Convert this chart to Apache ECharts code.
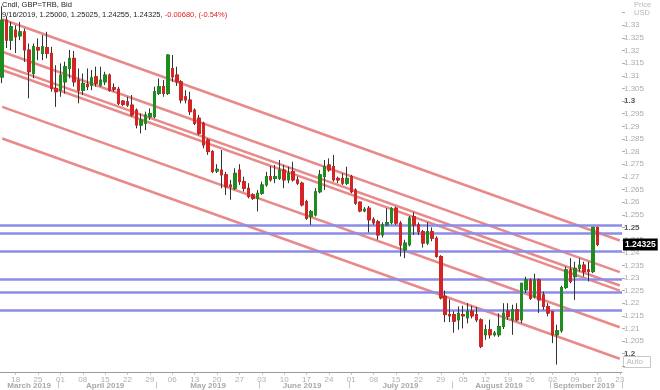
<!DOCTYPE html>
<html><head><meta charset="utf-8">
<script src="https://cdn.jsdelivr.net/npm/echarts@6/dist/echarts.min.js"></script>
<style>html,body{margin:0;padding:0;background:#fff}#c{width:660px;height:390px}</style>
</head><body><div id="c"></div>
<script>
const dates = [
'2019-03-13','2019-03-14','2019-03-15','2019-03-18','2019-03-19','2019-03-20','2019-03-21','2019-03-22','2019-03-25','2019-03-26','2019-03-27','2019-03-28','2019-03-29',
'2019-04-01','2019-04-02','2019-04-03','2019-04-04','2019-04-05','2019-04-08','2019-04-09','2019-04-10','2019-04-11','2019-04-12','2019-04-15','2019-04-16','2019-04-17','2019-04-18','2019-04-19','2019-04-22','2019-04-23','2019-04-24','2019-04-25','2019-04-26','2019-04-29','2019-04-30',
'2019-05-01','2019-05-02','2019-05-03','2019-05-06','2019-05-07','2019-05-08','2019-05-09','2019-05-10','2019-05-13','2019-05-14','2019-05-15','2019-05-16','2019-05-17','2019-05-20','2019-05-21','2019-05-22','2019-05-23','2019-05-24','2019-05-27','2019-05-28','2019-05-29','2019-05-30','2019-05-31',
'2019-06-03','2019-06-04','2019-06-05','2019-06-06','2019-06-07','2019-06-10','2019-06-11','2019-06-12','2019-06-13','2019-06-14','2019-06-17','2019-06-18','2019-06-19','2019-06-20','2019-06-21','2019-06-24','2019-06-25','2019-06-26','2019-06-27','2019-06-28',
'2019-07-01','2019-07-02','2019-07-03','2019-07-04','2019-07-05','2019-07-08','2019-07-09','2019-07-10','2019-07-11','2019-07-12','2019-07-15','2019-07-16','2019-07-17','2019-07-18','2019-07-19','2019-07-22','2019-07-23','2019-07-24','2019-07-25','2019-07-26','2019-07-29','2019-07-30','2019-07-31',
'2019-08-01','2019-08-02','2019-08-05','2019-08-06','2019-08-07','2019-08-08','2019-08-09','2019-08-12','2019-08-13','2019-08-14','2019-08-15','2019-08-16','2019-08-19','2019-08-20','2019-08-21','2019-08-22','2019-08-23','2019-08-26','2019-08-27','2019-08-28','2019-08-29','2019-08-30',
'2019-09-02','2019-09-03','2019-09-04','2019-09-05','2019-09-06','2019-09-09','2019-09-10','2019-09-11','2019-09-12','2019-09-13','2019-09-16','2019-09-17','2019-09-18','2019-09-19','2019-09-20','2019-09-23'
];
const openV = [
1.3095,1.3320,1.3241,1.3281,1.3258,1.3274,1.3202,1.3109,1.3212,1.3189,1.3212,1.3189,1.3050,
1.3043,1.3076,1.3129,1.3169,1.3083,1.3043,1.3066,1.3063,1.3096,1.3063,1.3076,1.3103,1.3053,1.3047,1.3000,1.2997,1.2984,1.2964,1.2905,1.2912,1.2938,1.2938,
1.3030,1.3057,1.3030,1.3129,1.3103,1.3076,1.3017,1.3004,1.2964,1.2932,1.2912,1.2846,1.2800,1.2723,1.2727,1.2708,1.2668,1.2655,1.2727,1.2681,1.2655,1.2629,1.2615,
1.2635,1.2668,1.2701,1.2694,1.2694,1.2727,1.2688,1.2721,1.2688,1.2675,1.2602,1.2543,1.2549,1.2641,1.2701,1.2747,1.2741,1.2694,1.2694,1.2675,
1.2701,1.2648,1.2600,1.2565,1.2576,1.2532,1.2522,1.2470,1.2510,1.2519,1.2576,1.2517,1.2411,1.2431,1.2543,1.2510,1.2483,1.2438,1.2483,1.2457,1.2385,1.2227,1.2155,
1.2155,1.2134,1.2155,1.2142,1.2168,1.2155,1.2134,1.2075,1.2095,1.2075,1.2075,1.2108,1.2169,1.2134,1.2174,1.2134,1.2253,1.2292,1.2226,1.2292,1.2233,1.2187,
1.2167,1.2075,1.2091,1.2262,1.2332,1.2305,1.2338,1.2351,1.2332,1.2325,1.2500
];
const closeV = [
1.3320,1.3241,1.3294,1.3254,1.3274,1.3202,1.3116,1.3215,1.3202,1.3215,1.3189,1.3050,1.3037,
1.3103,1.3136,1.3169,1.3076,1.3043,1.3070,1.3057,1.3092,1.3070,1.3083,1.3103,1.3043,1.3047,1.2991,1.2987,1.2984,1.2945,1.2905,1.2925,1.2945,1.2951,1.3037,
1.3057,1.3030,1.3182,1.3096,1.3076,1.3004,1.3004,1.2958,1.2912,1.2872,1.2826,1.2800,1.2721,1.2730,1.2708,1.2661,1.2661,1.2714,1.2681,1.2655,1.2622,1.2615,1.2635,
1.2668,1.2701,1.2688,1.2701,1.2727,1.2688,1.2714,1.2688,1.2675,1.2589,1.2536,1.2563,1.2641,1.2708,1.2741,1.2727,1.2688,1.2688,1.2675,1.2694,
1.2641,1.2596,1.2565,1.2572,1.2530,1.2518,1.2470,1.2510,1.2519,1.2574,1.2517,1.2430,1.2438,1.2537,1.2510,1.2483,1.2438,1.2483,1.2457,1.2385,1.2221,1.2155,1.2150,
1.2129,1.2160,1.2150,1.2168,1.2150,1.2134,1.2029,1.2095,1.2075,1.2082,1.2108,1.2161,1.2147,1.2174,1.2134,1.2279,1.2292,1.2219,1.2292,1.2213,1.2187,1.2161,
1.2075,1.2091,1.2262,1.2332,1.2286,1.2338,1.2351,1.2325,1.2325,1.2500,1.24325
];
const lowV = [
1.3071,1.3210,1.3202,1.3190,1.3241,1.3155,1.3011,1.3090,1.3162,1.3162,1.3169,1.3037,1.2977,
1.3017,1.3030,1.3090,1.3057,1.2991,1.3024,1.3043,1.3043,1.3057,1.3057,1.3063,1.3037,1.3037,1.2984,1.2980,1.2977,1.2938,1.2892,1.2872,1.2885,1.2925,1.2932,
1.3024,1.3017,1.3024,1.3076,1.3060,1.2991,1.2991,1.2945,1.2905,1.2865,1.2813,1.2787,1.2715,1.2715,1.2655,1.2628,1.2609,1.2648,1.2668,1.2642,1.2615,1.2609,1.2563,
1.2629,1.2661,1.2681,1.2675,1.2688,1.2655,1.2675,1.2681,1.2668,1.2583,1.2530,1.2510,1.2543,1.2635,1.2648,1.2720,1.2681,1.2675,1.2668,1.2668,
1.2635,1.2589,1.2560,1.2560,1.2480,1.2510,1.2451,1.2460,1.2505,1.2512,1.2510,1.2385,1.2378,1.2425,1.2470,1.2470,1.2420,1.2430,1.2445,1.2380,1.2215,1.2125,1.2125,
1.2083,1.2095,1.2100,1.2120,1.2140,1.2125,1.2022,1.2055,1.2060,1.2068,1.2066,1.2098,1.2134,1.2075,1.2128,1.2121,1.2240,1.2213,1.2219,1.2161,1.2174,1.2148,
1.2042,1.1957,1.2083,1.2256,1.2279,1.2213,1.2325,1.2305,1.2286,1.2319,1.24255
];
const highV = [
1.3375,1.3335,1.3313,1.3300,1.3313,1.3287,1.3228,1.3228,1.3248,1.3261,1.3274,1.3215,1.3142,
1.3149,1.3156,1.3202,1.3198,1.3129,1.3109,1.3129,1.3123,1.3136,1.3136,1.3116,1.3109,1.3070,1.3057,1.3004,1.3017,1.3024,1.2971,1.2951,1.2958,1.2971,1.3057,
1.3090,1.3083,1.3185,1.3182,1.3136,1.3083,1.3043,1.3037,1.2971,1.2945,1.2918,1.2852,1.2806,1.2750,1.2806,1.2720,1.2688,1.2734,1.2750,1.2701,1.2675,1.2635,1.2648,
1.2681,1.2720,1.2743,1.2747,1.2767,1.2747,1.2740,1.2760,1.2701,1.2681,1.2609,1.2569,1.2655,1.2727,1.2767,1.2773,1.2787,1.2701,1.2714,1.2740,
1.2708,1.2655,1.2602,1.2580,1.2585,1.2540,1.2530,1.2520,1.2576,1.2580,1.2582,1.2525,1.2451,1.2545,1.2560,1.2520,1.2490,1.2520,1.2500,1.2465,1.2390,1.2250,1.2215,
1.2168,1.2187,1.2190,1.2200,1.2190,1.2185,1.2140,1.2115,1.2135,1.2090,1.2160,1.2200,1.2200,1.2194,1.2200,1.2280,1.2305,1.2298,1.2317,1.2298,1.2246,1.2200,
1.2167,1.2115,1.2269,1.2345,1.2378,1.2364,1.2378,1.2364,1.2364,1.2502,1.25025
];
// trend channel lines: value at first and last category
const trendStart = [1.3324, 1.3195, 1.3142, 1.3123, 1.2977, 1.2852];
const trendEnd   = [1.2448, 1.2323, 1.2270, 1.2250, 1.2105, 1.1980];
// horizontal levels
const levels = [1.2510, 1.2477, 1.2407, 1.2295, 1.2242, 1.2171];
const lastPrice = 1.24325;
const monthNames = ['January','February','March','April','May','June','July','August','September','October','November','December'];

const candleData = openV.map((o, i) => [o, closeV[i], lowV[i], highV[i]]);
const bodyData = openV.map((o, i) => [o, closeV[i], Math.min(o, closeV[i]), Math.max(o, closeV[i])]);

const isMonday = v => new Date(v + 'T12:00:00Z').getUTCDay() === 1;
const monthStart = new Set(), monthMid = new Set();
(function(){
  let s = 0;
  for (let i = 1; i <= dates.length; i++) {
    if (i === dates.length || dates[i].slice(5,7) !== dates[s].slice(5,7)) {
      if (s > 0) monthStart.add(s);
      monthMid.add(Math.floor((s + i - 1) / 2));
      s = i;
    }
  }
})();

const UP = '#1f8c1f', DOWN = '#d42424';
const FONT = 'Liberation Sans';

const series = [];
trendStart.forEach((v, k) => {
  series.push({
    type: 'line', xAxisIndex: 0, yAxisIndex: 0, z: 2, silent: true, showSymbol: false, symbol: 'none',
    data: [[dates[0], v], [dates[dates.length - 1], trendEnd[k]]],
    lineStyle: { color: '#e98a8a', width: 2.5 }
  });
});
series.push({
  type: 'line', data: [], z: 3, silent: true,
  markLine: {
    symbol: 'none', silent: true, animation: false, precision: 6,
    lineStyle: { color: '#8c8ce8', width: 2.5, type: 'solid' },
    label: { show: false },
    data: levels.map(v => ({ yAxis: v }))
  }
});
series.push({
  type: 'candlestick', z: 5, data: candleData, barWidth: 3,
  itemStyle: { color: UP, color0: DOWN, borderColor: '#333', borderColor0: '#333', borderWidth: 1 }
});
series.push({
  type: 'candlestick', z: 6, data: bodyData, barWidth: 3,
  itemStyle: { color: UP, color0: DOWN, borderColor: UP, borderColor0: DOWN, borderWidth: 1 }
});
series.push({
  type: 'line', data: [], z: 7, silent: true,
  markLine: {
    symbol: 'none', silent: true, animation: false, precision: 6,
    lineStyle: { color: 'rgba(0,0,0,0)', width: 0 },
    label: { show: true, position: 'end', distance: 1, formatter: String(lastPrice), backgroundColor: '#000', color: '#fff',
      fontWeight: 'bold', fontSize: 8.5, fontFamily: FONT, padding: [2, 2, 1, 2] },
    data: [{ yAxis: lastPrice }]
  }
});

const chart = echarts.init(document.getElementById('c'));
chart.setOption({
  animation: false,
  backgroundColor: '#fff',
  title: {
    text: 'Cndl, GBP=TRB, Bid',
    subtext: '{a|9/16/2019, 1.25000, 1.25025, 1.24255, 1.24325, }{r|-0.00680, (-0.54%)}',
    left: 2, top: 1, padding: 0, itemGap: 2,
    textStyle: { fontSize: 7.5, fontWeight: 'normal', color: '#222', fontFamily: FONT },
    subtextStyle: { fontSize: 7.5, fontFamily: FONT, rich: { a: { color: '#222', fontSize: 7.5, fontFamily: FONT }, r: { color: '#e02020', fontSize: 7.5, fontFamily: FONT } } }
  },
  grid: { left: 0, right: 38, top: 0, bottom: 10.7 },
  xAxis: [
    { type: 'category', data: dates, boundaryGap: true, position: 'bottom', offset: -6.3,
      axisLine: { lineStyle: { color: '#9a9a9a', width: 1 } },
      axisTick: { show: true, alignWithLabel: true, interval: (i, v) => isMonday(v), length: 2, lineStyle: { color: '#bbb' } },
      axisLabel: { interval: (i, v) => isMonday(v), formatter: v => v.slice(8), color: '#b0b0b0', fontSize: 8, margin: 3, fontFamily: FONT },
      splitLine: { show: false } },
    { type: 'category', data: dates, boundaryGap: true, position: 'bottom', offset: 2.5,
      axisLine: { show: false },
      axisTick: { show: true, interval: (i) => monthStart.has(i), length: 7, lineStyle: { color: '#c8c8c8' } },
      axisLabel: { interval: (i) => monthMid.has(i), formatter: v => monthNames[+v.slice(5,7) - 1] + ' ' + v.slice(0,4),
        color: '#a8a8a8', fontWeight: 'bold', fontSize: 8, margin: 0.5, fontFamily: FONT },
      splitLine: { show: false } }
  ],
  yAxis: {
    type: 'value', position: 'right', min: 1.19, max: 1.34, interval: 0.005, scale: true,
    splitLine: { show: false }, axisLine: { show: false },
    axisTick: { show: true, length: 3, lineStyle: { color: '#aaa' } },
    axisLabel: {
      showMinLabel: false, showMaxLabel: false, margin: 2, color: '#ababab', fontSize: 8, fontFamily: FONT,
      formatter: v => { const s = +(+v).toFixed(4); if (s > 1.3326 || s < 1.1999) return ''; const b = Math.abs(s * 20 - Math.round(s * 20)) < 1e-6; return b ? '{b|' + s + '}' : String(s); },
      rich: { b: { fontWeight: 'bold', color: '#555', fontSize: 8, fontFamily: FONT } }
    }
  },
  graphic: [
    { type: 'text', left: 634, top: 1, style: { text: 'Price', fill: '#b8b8b8', font: '7.5px ' + FONT } },
    { type: 'text', left: 634, top: 9, style: { text: 'USD', fill: '#b8b8b8', font: '7.5px ' + FONT } },
    { type: 'group', left: 623, top: 356, children: [
      { type: 'rect', shape: { x: 0, y: 0, width: 27, height: 11 }, style: { fill: '#fff', stroke: '#c8c8c8', lineWidth: 1 } },
      { type: 'text', x: 3, y: 1.5, style: { text: 'Auto', fill: '#b8b8b8', font: '8px ' + FONT, textDecoration: 'underline' } }
    ] }
  ],
  series
});
</script>
</body></html>
